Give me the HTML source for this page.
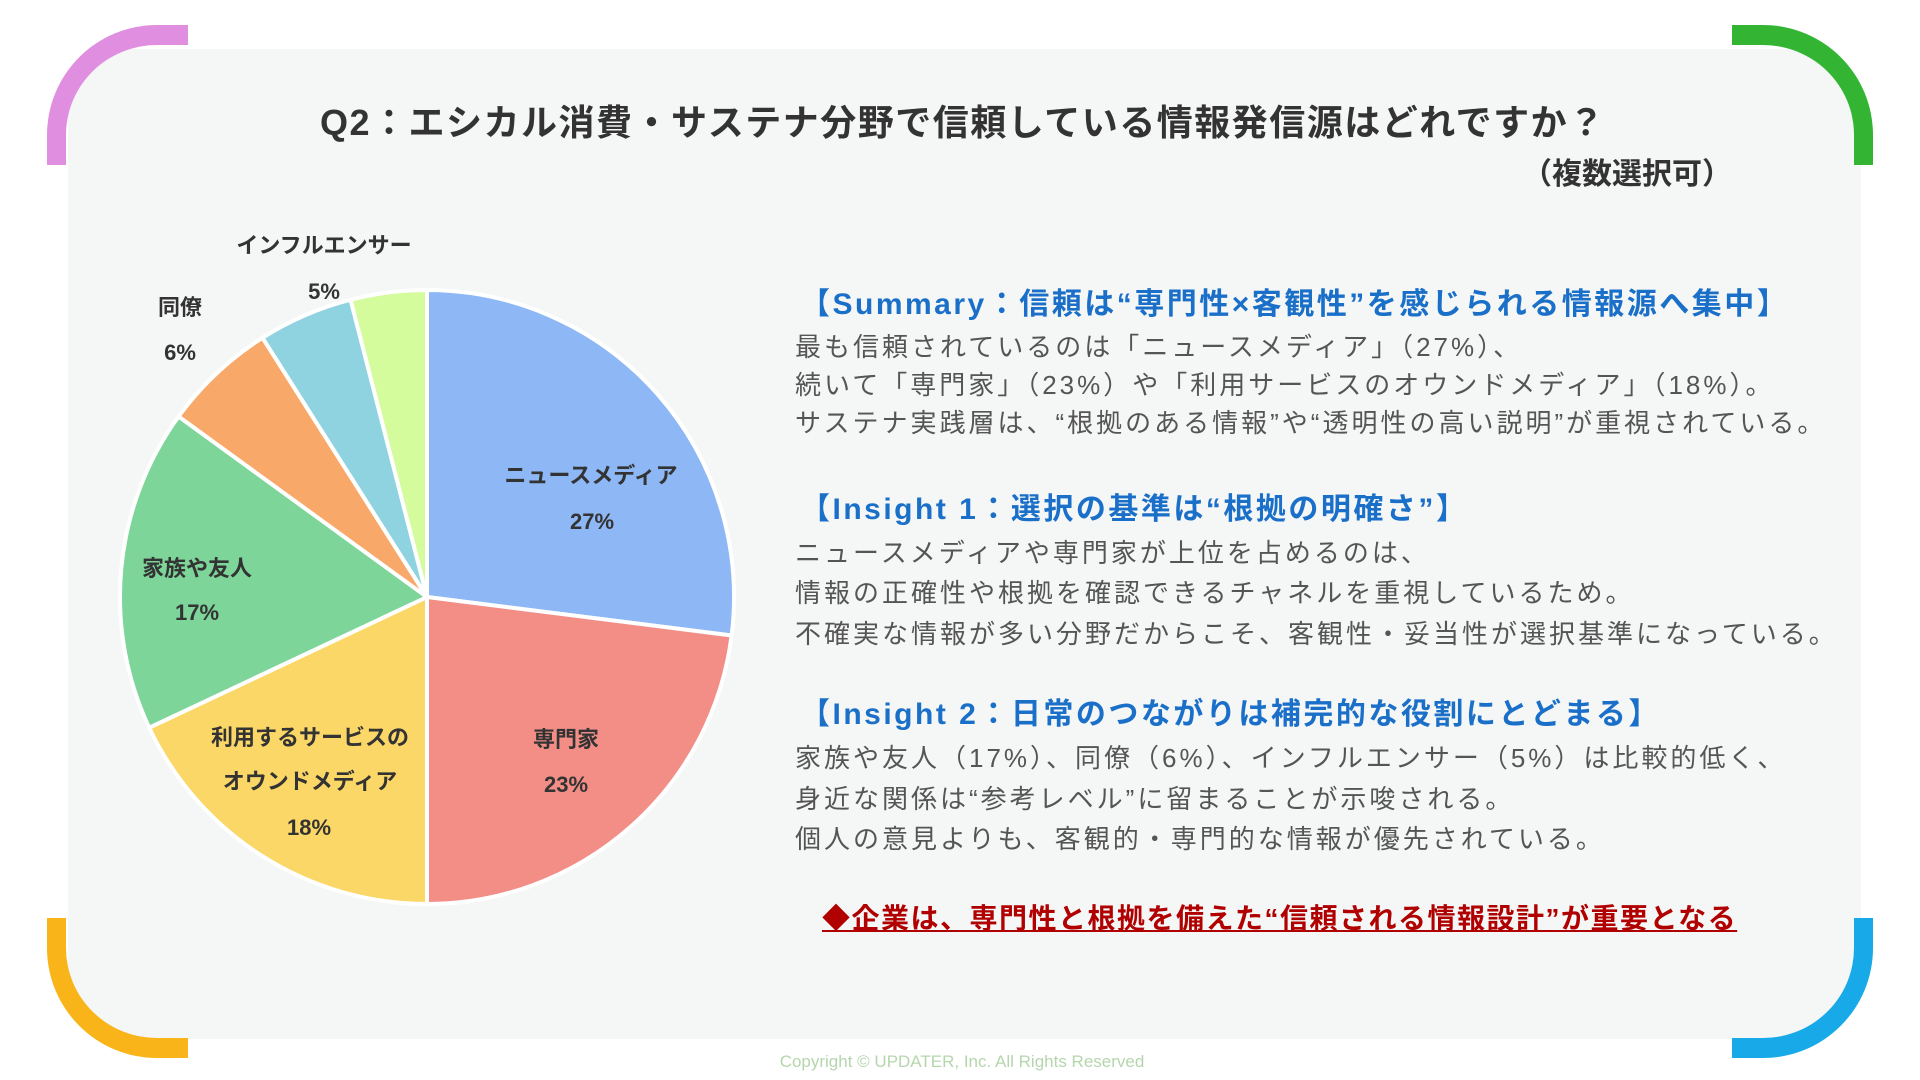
<!DOCTYPE html>
<html><head><meta charset="utf-8"><style>
body{margin:0;width:1920px;height:1080px;background:#fff;position:relative;overflow:hidden;font-family:"Liberation Sans","Noto Sans CJK JP",sans-serif;}
.panel{position:absolute;left:68px;top:49px;width:1793px;height:990px;background:#f5f6f6;border-radius:60px;}
.br{position:absolute;width:122px;height:120px;border:0 solid;}
.t{position:absolute;white-space:nowrap;line-height:1;}
.lb{font-weight:bold;color:#333;font-size:22px;transform:translate(-50%,-50%);}
.h{font-weight:bold;color:#1a6fc8;font-size:30px;letter-spacing:2.5px;}
.b{color:#555;font-size:26px;letter-spacing:3px;}
</style></head><body>
<div class="panel"></div>
<div class="br" style="left:47px;top:25px;border-top-width:20px;border-left-width:19px;border-color:#e08fe0;border-top-left-radius:110px;"></div>
<div class="br" style="left:1732px;top:25px;border-top-width:20px;border-right-width:19px;border-color:#33b533;border-top-right-radius:110px;"></div>
<div class="br" style="left:47px;top:918px;border-bottom-width:20px;border-left-width:19px;border-color:#f8b418;border-bottom-left-radius:110px;"></div>
<div class="br" style="left:1732px;top:918px;border-bottom-width:20px;border-right-width:19px;border-color:#17a9e8;border-bottom-right-radius:110px;"></div>

<div class="t" style="left:320px;top:105px;font-size:36px;font-weight:bold;color:#333;letter-spacing:1.5px;">Q2：エシカル消費・サステナ分野で信頼している情報発信源はどれですか？</div>
<div class="t" style="left:1522px;top:160px;font-size:30px;font-weight:bold;color:#333;">（複数選択可）</div>

<svg style="position:absolute;left:0;top:0" width="1920" height="1080">
<g stroke="#fff" stroke-width="4" stroke-linejoin="round">
<path d="M427 597 L427 290 A307 307 0 0 1 731.6 635.5Z" fill="#8db8f5"/>
<path d="M427 597 L731.6 635.5 A307 307 0 0 1 427 904Z" fill="#f28e86"/>
<path d="M427 597 L427 904 A307 307 0 0 1 149.2 727.7Z" fill="#fbd767"/>
<path d="M427 597 L149.2 727.7 A307 307 0 0 1 178.6 416.5Z" fill="#7dd59a"/>
<path d="M427 597 L178.6 416.5 A307 307 0 0 1 262.5 337.8Z" fill="#f8a869"/>
<path d="M427 597 L262.5 337.8 A307 307 0 0 1 350.6 299.7Z" fill="#8fd3e0"/>
<path d="M427 597 L350.6 299.7 A307 307 0 0 1 427 290Z" fill="#d4fb9c"/>
</g></svg>

<div class="t lb" style="left:324px;top:246px;">インフルエンサー</div>
<div class="t lb" style="left:324px;top:292px;">5%</div>
<div class="t lb" style="left:180px;top:308px;">同僚</div>
<div class="t lb" style="left:180px;top:353px;">6%</div>
<div class="t lb" style="left:591px;top:476px;">ニュースメディア</div>
<div class="t lb" style="left:592px;top:522px;">27%</div>
<div class="t lb" style="left:197px;top:569px;">家族や友人</div>
<div class="t lb" style="left:197px;top:613px;">17%</div>
<div class="t lb" style="left:310px;top:738px;">利用するサービスの</div>
<div class="t lb" style="left:310px;top:782px;">オウンドメディア</div>
<div class="t lb" style="left:309px;top:828px;">18%</div>
<div class="t lb" style="left:566px;top:740px;">専門家</div>
<div class="t lb" style="left:566px;top:785px;">23%</div>

<div class="t h" style="left:800px;top:290px;">【Summary：信頼は“専門性×客観性”を感じられる情報源へ集中】</div>
<div class="t b" style="left:795px;top:334px;">最も信頼されているのは「ニュースメディア」（27%）、</div>
<div class="t b" style="left:795px;top:372px;">続いて「専門家」（23%）や「利用サービスのオウンドメディア」（18%）。</div>
<div class="t b" style="left:795px;top:410px;">サステナ実践層は、“根拠のある情報”や“透明性の高い説明”が重視されている。</div>

<div class="t h" style="left:800px;top:495px;">【Insight 1：選択の基準は“根拠の明確さ”】</div>
<div class="t b" style="left:795px;top:540px;">ニュースメディアや専門家が上位を占めるのは、</div>
<div class="t b" style="left:795px;top:580px;">情報の正確性や根拠を確認できるチャネルを重視しているため。</div>
<div class="t b" style="left:795px;top:621px;">不確実な情報が多い分野だからこそ、客観性・妥当性が選択基準になっている。</div>

<div class="t h" style="left:800px;top:700px;">【Insight 2：日常のつながりは補完的な役割にとどまる】</div>
<div class="t b" style="left:795px;top:745px;">家族や友人（17%）、同僚（6%）、インフルエンサー（5%）は比較的低く、</div>
<div class="t b" style="left:795px;top:786px;">身近な関係は“参考レベル”に留まることが示唆される。</div>
<div class="t b" style="left:795px;top:826px;">個人の意見よりも、客観的・専門的な情報が優先されている。</div>

<div class="t" style="left:822px;top:905px;font-size:28px;font-weight:bold;color:#b00000;text-decoration:underline;letter-spacing:1.5px;">◆企業は、専門性と根拠を備えた“信頼される情報設計”が重要となる</div>
<div class="t" style="left:962px;top:1053px;transform:translateX(-50%);font-size:17px;color:#b5d6ad;">Copyright © UPDATER, Inc. All Rights Reserved</div>
</body></html>
